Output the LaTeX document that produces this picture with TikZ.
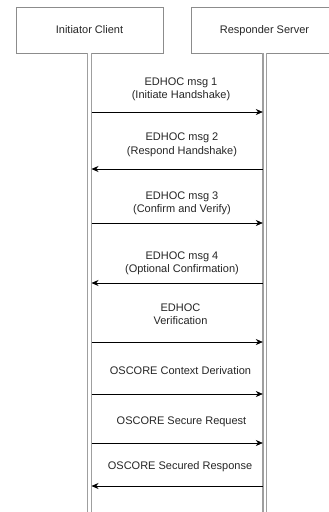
\documentclass[tikz,border=0pt]{standalone}
\usepackage{fontspec}
\setmainfont{Liberation Sans}
\usetikzlibrary{positioning, arrows.meta}

\tikzset{
  actor/.style={draw=gray!90, line width=0.8pt, minimum width=147pt, minimum height=46pt, inner sep=0pt, text height=8pt, text depth=1.5pt, text=black!85, font=\fontsize{11}{13}\selectfont},
  lifeline/.style={draw=gray!75, line width=1.2pt, double=white, double distance=2.6pt},
  msg/.style={-{Stealth[length=7pt, width=6pt]}, line width=0.7pt},
  msglabel/.style={align=center, inner sep=0pt, text=black!85, font=\fontsize{11}{13.5}\selectfont}
}

\begin{document}
\begin{tikzpicture}[x=1pt, y=-1pt]
  \useasboundingbox (0,0) rectangle (329,512);
  \fill[white] (0,0) rectangle (329,512);

  % participants
  \node[actor] (client) at (89.5,30) {Initiator Client};
  \node[actor] (server) at (264.5,30) {Responder Server};

  % lifelines
  \coordinate (clientEnd) at (89.5,520);
  \coordinate (serverEnd) at (264.8,520);
  \draw[lifeline] (client.south) -- (clientEnd);
  \draw[lifeline] (server.south -| serverEnd) -- (serverEnd);

  % arrow ends on the lifelines
  \foreach \n/\y in {1/112, 2/169, 3/223, 4/283, 5/342, 6/394, 7/443, 8/486} {
    \coordinate (c\n) at (91.5,\y);
    \coordinate (s\n) at (262.8,\y);
  }

  % messages
  \draw[msg] (c1) -- (s1);
  \node[msglabel] (m1) at (181,89.5) {EDHOC msg 1\\(Initiate Handshake)};
  \draw[msg] (s2) -- (c2);
  \node[msglabel] (m2) at (182,145) {EDHOC msg 2\\(Respond Handshake)};
  \draw[msg] (c3) -- (s3);
  \node[msglabel] (m3) at (182,203.5) {EDHOC msg 3\\(Confirm and Verify)};
  \draw[msg] (s4) -- (c4);
  \node[msglabel] (m4) at (182,263.5) {EDHOC msg 4\\(Optional Confirmation)};
  \draw[msg] (c5) -- (s5);
  \node[msglabel] (m5) at (180.5,314) {EDHOC\\Verification};
  \draw[msg] (c6) -- (s6);
  \node[msglabel] (m6) at (180.5,371) {OSCORE Context Derivation};
  \draw[msg] (c7) -- (s7);
  \node[msglabel] (m7) at (181.5,422) {OSCORE Secure Request};
  \draw[msg] (s8) -- (c8);
  \node[msglabel] (m8) at (180,467) {OSCORE Secured Response};
\end{tikzpicture}
\end{document}
